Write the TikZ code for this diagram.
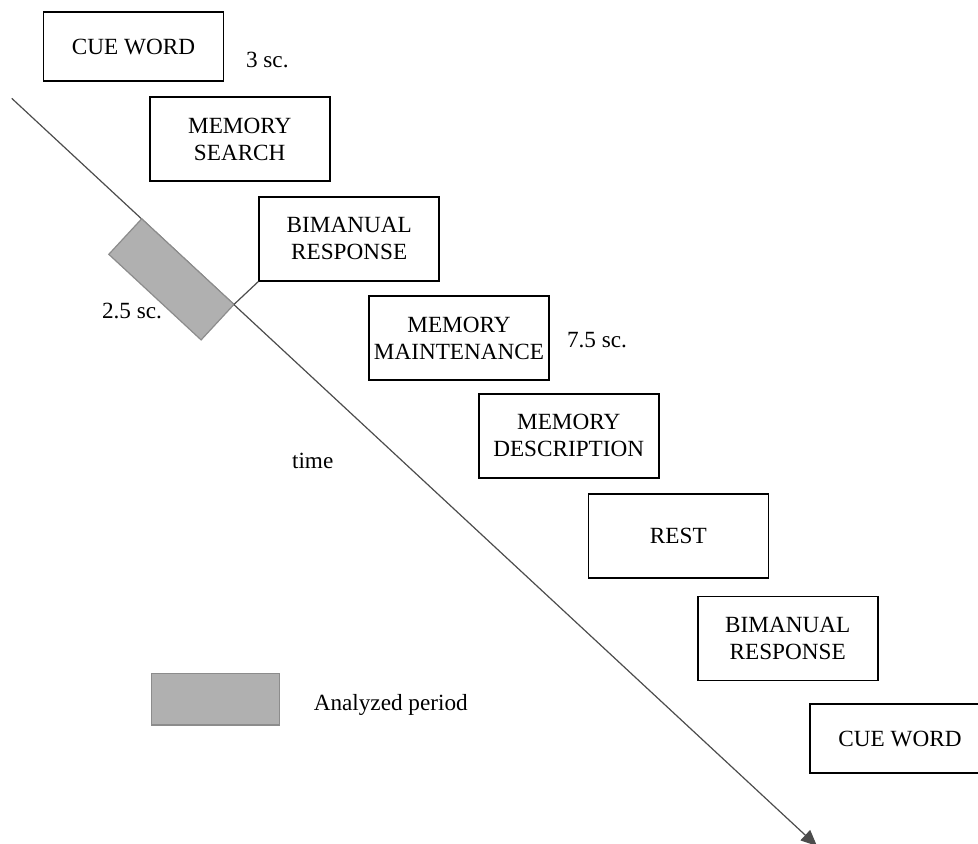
\documentclass[tikz,border=0pt]{standalone}
\usepackage{fontspec}
\setmainfont{Liberation Serif}
\usetikzlibrary{arrows.meta}

\tikzset{
	stage/.style={draw, line width=0.8pt, align=center, minimum width=90pt, minimum height=42pt, inner sep=2pt},
	cue/.style={stage, minimum height=34.5pt},
	period/.style={fill=black!31, draw=black!45, line width=0.6pt},
	timeline/.style={draw=black!70, line width=0.6pt}
}

\begin{document}
\begin{tikzpicture}[x=0.5pt, y=-0.5pt, every node/.style={font=\fontsize{11.6}{13.5}\selectfont}]
	\useasboundingbox (0,0) rectangle (978,843);
	\clip (0,0) rectangle (978,843);
	
	% the time axis
	\coordinate (tstart) at (11.7,98.3);
	\coordinate (tend) at (817,846);
	\draw[timeline, -{Triangle[length=8pt, width=7pt]}] (tstart) -- (tend);
	\node[anchor=base west] (timelbl) at (285,468) {time};
	
	% the trial stages
	\node[cue] (cueA) at (133.5,46.5) {CUE WORD};
	\node[stage] (search) at (239.7,139) {MEMORY\\SEARCH};
	\node[stage] (bimA) at (349.2,238.7) {BIMANUAL\\RESPONSE};
	\node[stage] (maint) at (459,338) {MEMORY\\MAINTENANCE};
	\node[stage] (descr) at (568.7,435.7) {MEMORY\\DESCRIPTION};
	\node[stage] (rest) at (678.3,536) {REST};
	\node[stage] (bimB) at (787.7,638.3) {BIMANUAL\\RESPONSE};
	\node[cue] (cueB) at (900,738.7) {CUE WORD};
	
	\node[anchor=base west] (cuetime) at (239,67) {3 sc.};
	\node[anchor=base west] (maintime) at (560,347) {7.5 sc.};
	
	% analyzed period on the axis
	\coordinate (pa) at (141.7,218.8);
	\coordinate (pb) at (234,304.4);
	\coordinate (pc) at (201.1,339.9);
	\coordinate (pd) at (108.8,254.3);
	\draw[period] (pa) -- (pb) -- (pc) -- (pd) -- cycle;
	\draw[timeline] (pb) -- (bimA.south west);
	\node[anchor=base west] (periodtime) at (95,318) {2.5 sc.};
	
	% legend
	\node[period, minimum width=64pt, minimum height=25.8pt, inner sep=0pt] (legbox) at (215.8,699.2) {};
	\node[anchor=base west] (leglbl) at (306.7,710) {Analyzed period};
\end{tikzpicture}
\end{document}
